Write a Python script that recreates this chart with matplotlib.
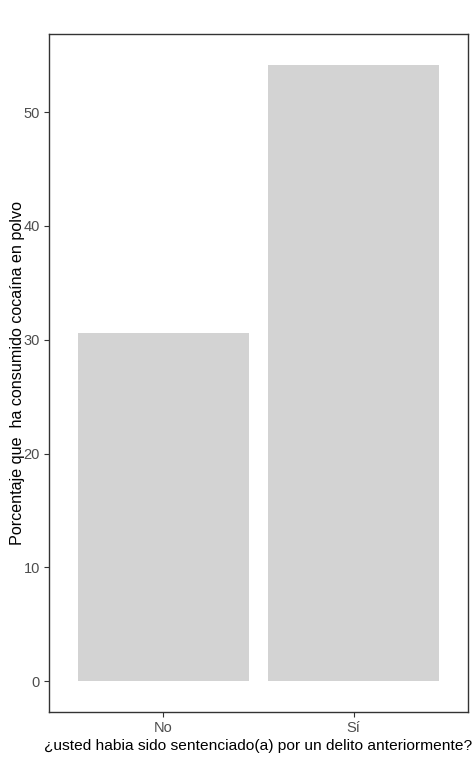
import matplotlib
matplotlib.use("Agg")
import matplotlib.pyplot as plt

categorias = ["No", "Sí"]
porcentajes = [30.6, 54.15]

plt.rcParams.update({"font.family": ["Liberation Sans", "DejaVu Sans"]})

fig = plt.figure(figsize=(4.75, 7.62), dpi=100)
ax = fig.add_axes([49 / 475, 50 / 762, 419 / 475, 678 / 762])

x = range(len(categorias))
ax.bar(x, porcentajes, width=0.9, color="#D3D3D3")

ax.set_xlim(-0.6, len(categorias) - 0.4)
ymax = max(porcentajes)
ax.set_ylim(-0.05 * ymax, ymax * 1.05)
ax.set_xticks(list(x))
ax.set_xticklabels(categorias)
ax.set_yticks([0, 10, 20, 30, 40, 50])

ax.tick_params(colors="#333333", labelcolor="#4D4D4D", labelsize=10.5,
               length=3.5, width=0.8, pad=3)
for s in ax.spines.values():
    s.set_color("#333333")
    s.set_linewidth(1.0)

ax.set_xlabel("¿usted habia sido sentenciado(a) por un delito anteriormente?",
              fontsize=11.15, color="black", labelpad=3)
ax.set_ylabel("Porcentaje que  ha consumido cocaína en polvo",
              fontsize=11.6, color="black", labelpad=-1)

fig.savefig("out.png", dpi=100, facecolor="white")
